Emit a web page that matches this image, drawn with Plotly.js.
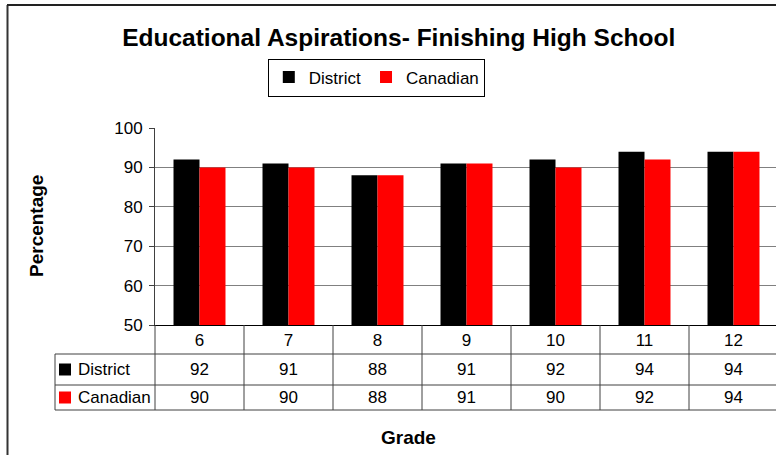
<!DOCTYPE html>
<html>
<head>
<meta charset="utf-8">
<script src="https://cdn.plot.ly/plotly-3.0.1.min.js"></script>
<style>
  html, body { margin: 0; padding: 0; background: #fff; }
  #chart { width: 776px; height: 455px; }
</style>
</head>
<body>
<div id="chart"></div>
<script>
// ---- data ----
const grades = ["6", "7", "8", "9", "10", "11", "12"];
const seriesNames = ["District", "Canadian"];
const district = [92, 91, 88, 91, 92, 94, 94];
const canadian = [90, 90, 88, 91, 90, 92, 94];
const chartTitle = "Educational Aspirations- Finishing High School";
const yTitle = "Percentage";
const xTitle = "Grade";

// ---- layout helpers (pixel geometry) ----
const W = 776, H = 455;
const plotL = 155, plotR = 776, plotT = 128, plotB = 325;
const cellW = 89;                 // width of one category column
const pw = plotR - plotL, ph = plotB - plotT;
const xp = px => (px - plotL) / pw;
const yp = py => (plotB - py) / ph;
const FONT = "Liberation Sans, Arial, Helvetica, sans-serif";
const FS = 17;
const colors = ["#000000", "#FF0000"];
const lineCol = "#404040";

const n = grades.length;
const xMax = -0.5 + pw / cellW;

const traces = [
  { type: "bar", name: seriesNames[0], x: grades, y: district,
    marker: { color: colors[0], line: { width: 0 } }, hoverinfo: "x+y+name" },
  { type: "bar", name: seriesNames[1], x: grades, y: canadian,
    marker: { color: colors[1], line: { width: 0 } }, hoverinfo: "x+y+name" }
];

// table geometry
const tableLeft = 55, rowHdrB = 354, row1B = 385, row2B = 410, tableRight = 800;
const rowCenters = [369.5, 397.5];
const rows = [district, canadian];

const shapes = [];
const annotations = [];

// horizontal table lines
[rowHdrB, row1B, row2B].forEach(py => {
  shapes.push({ type: "line", xref: "paper", yref: "paper",
    x0: xp(tableLeft), x1: xp(tableRight), y0: yp(py), y1: yp(py),
    line: { color: lineCol, width: 1 } });
});
// left edge of table row labels
shapes.push({ type: "line", xref: "paper", yref: "paper",
  x0: xp(tableLeft), x1: xp(tableLeft), y0: yp(rowHdrB), y1: yp(row2B),
  line: { color: lineCol, width: 1 } });
// y axis extension through the table
shapes.push({ type: "line", xref: "paper", yref: "paper",
  x0: 0, x1: 0, y0: 0, y1: yp(row2B),
  line: { color: lineCol, width: 1 } });
// category boundaries
for (let i = 0; i < n; i++) {
  shapes.push({ type: "line", xref: "x", yref: "paper",
    x0: i + 0.5, x1: i + 0.5, y0: 0, y1: yp(row2B),
    line: { color: lineCol, width: 1 } });
}
// row legend keys + labels + values
seriesNames.forEach((name, r) => {
  const cy = rowCenters[r];
  shapes.push({ type: "rect", xref: "paper", yref: "paper",
    x0: xp(59), x1: xp(71), y0: yp(cy - 6), y1: yp(cy + 6),
    fillcolor: colors[r], line: { width: 0 } });
  annotations.push({ xref: "paper", yref: "paper", x: xp(76), y: yp(cy),
    xanchor: "left", yanchor: "middle", showarrow: false, text: name,
    font: { family: FONT, size: FS, color: "#000" } });
  rows[r].forEach((v, i) => {
    annotations.push({ xref: "x", yref: "paper", x: i, y: yp(cy),
      xanchor: "center", yanchor: "middle", showarrow: false, text: String(v),
      font: { family: FONT, size: FS, color: "#000" } });
  });
});

// chart-area border (left and top)
shapes.push({ type: "line", xref: "paper", yref: "paper",
  x0: xp(7.5), x1: xp(7.5), y0: yp(5), y1: yp(460),
  line: { color: "#333", width: 2 } });
shapes.push({ type: "line", xref: "paper", yref: "paper",
  x0: xp(7), x1: xp(800), y0: yp(5), y1: yp(5),
  line: { color: "#222", width: 2 } });

// axis titles as positioned text
annotations.push({ xref: "paper", yref: "paper", x: xp(36), y: yp(226),
  xanchor: "center", yanchor: "middle", showarrow: false, textangle: -90,
  text: yTitle, font: { family: FONT, size: 19, color: "#000", weight: "bold" } });
annotations.push({ xref: "paper", yref: "paper", x: xp(408), y: yp(437),
  xanchor: "center", yanchor: "middle", showarrow: false,
  text: xTitle, font: { family: FONT, size: 19, color: "#000", weight: "bold" } });

const layout = {
  width: W, height: H,
  margin: { l: plotL, r: W - plotR, t: plotT, b: H - plotB, pad: 0 },
  paper_bgcolor: "#fff", plot_bgcolor: "#fff",
  font: { family: FONT, size: FS, color: "#000" },
  title: { text: chartTitle, xref: "container", yref: "container",
    x: 398.7 / W, xanchor: "center", y: 1 - 37.5 / H, yanchor: "middle",
    font: { family: FONT, size: 24.5, color: "#000", weight: "bold" } },
  barmode: "group",
  bargap: 0.416, bargroupgap: 0,
  showlegend: true,
  legend: { orientation: "h", x: xp(376.3), xanchor: "center", y: yp(58.5), yanchor: "top",
    bordercolor: "#000", borderwidth: 1, bgcolor: "#fff",
    font: { family: FONT, size: FS, color: "#000" }, itemwidth: 30, traceorder: "normal" },
  xaxis: { type: "category", range: [-0.5, xMax], fixedrange: true,
    showline: true, linecolor: "#000", linewidth: 1, mirror: false,
    ticks: "", showgrid: false, tickfont: { family: FONT, size: FS, color: "#000" },
    automargin: false },
  yaxis: { range: [50, 100], dtick: 10, tick0: 50, fixedrange: true,
    showline: true, linecolor: lineCol, linewidth: 1,
    ticks: "outside", ticklen: 5, tickcolor: lineCol, tickwidth: 1, ticklabelstandoff: 3,
    showgrid: true, gridcolor: "#808080", gridwidth: 1, zeroline: false,
    tickfont: { family: FONT, size: FS, color: "#000" }, automargin: false },
  shapes: shapes,
  annotations: annotations
};

Plotly.newPlot("chart", traces, layout, { displayModeBar: false, staticPlot: true });
</script>
</body>
</html>
